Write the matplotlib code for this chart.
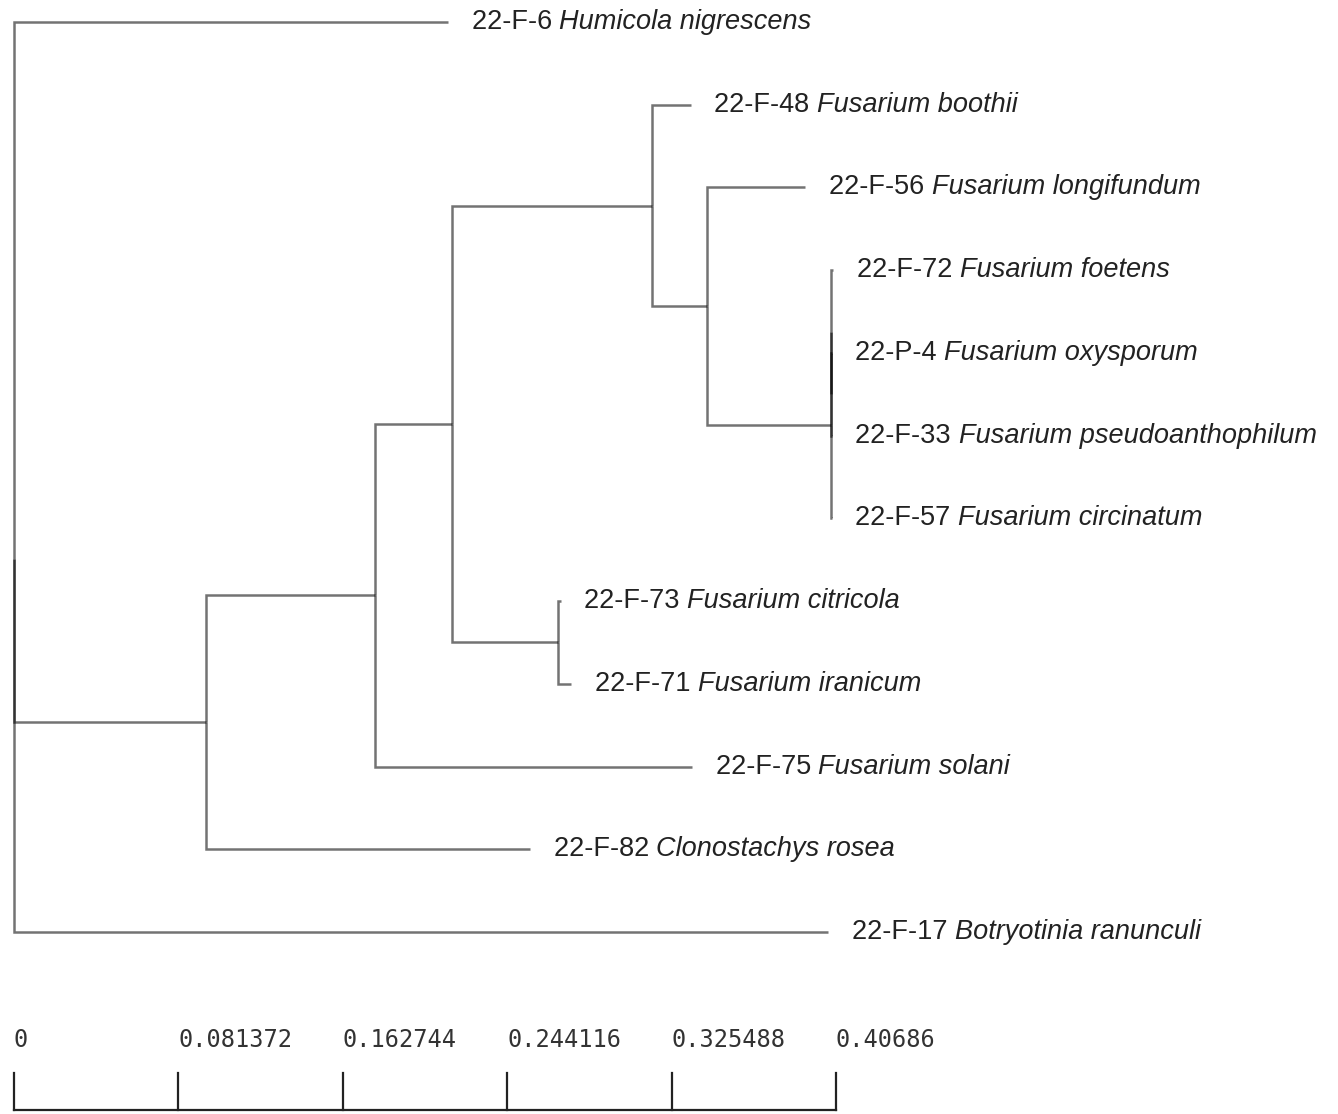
import matplotlib.pyplot as plt

# leaves, top to bottom
strain_ids = ["22-F-6", "22-F-48", "22-F-56", "22-F-72", "22-P-4", "22-F-33",
              "22-F-57", "22-F-73", "22-F-71", "22-F-75", "22-F-82", "22-F-17"]
species = ["Humicola nigrescens", "Fusarium boothii", "Fusarium longifundum",
           "Fusarium foetens", "Fusarium oxysporum", "Fusarium pseudoanthophilum",
           "Fusarium circinatum", "Fusarium citricola", "Fusarium iranicum",
           "Fusarium solani", "Clonostachys rosea", "Botryotinia ranunculi"]
leaf_parent = ["root", "D", "F", "N", "M", "M", "G", "E", "E", "B", "A", "root"]
leaf_length = [0.2148, 0.0190, 0.0487, 0.0012, 0.0004, 0.0004,
               0.0004, 0.0012, 0.0066, 0.1569, 0.1604, 0.4029]

# internal nodes (parents listed before children)
node_names = ["root", "A", "B", "C", "D", "E", "F", "G", "N", "M"]
node_parent = [None, "root", "A", "B", "C", "C", "D", "F", "G", "N"]
node_length = [0.0, 0.0950, 0.0837, 0.0381, 0.0992, 0.0525, 0.0269, 0.0615, 0.0, 0.0]

scale_ticks = [0, 0.081372, 0.162744, 0.244116, 0.325488, 0.40686]

# x position of every node
x_pos = {}
for name, parent, length in zip(node_names, node_parent, node_length):
    x_pos[name] = 0.0 if parent is None else x_pos[parent] + length

children = {name: [] for name in node_names}
for name, parent in zip(node_names, node_parent):
    if parent is not None:
        children[parent].append(name)

leaf_x = []
leaf_y = list(range(len(strain_ids)))
for i, (parent, length) in enumerate(zip(leaf_parent, leaf_length)):
    children[parent].append(("leaf", i))
    leaf_x.append(x_pos[parent] + length)

y_pos = {}


def node_y(item):
    if isinstance(item, tuple):
        return leaf_y[item[1]]
    if item not in y_pos:
        ys = [node_y(c) for c in children[item]]
        y_pos[item] = sum(ys) / len(ys)
    return y_pos[item]


def node_x(item):
    if isinstance(item, tuple):
        return leaf_x[item[1]]
    return x_pos[item]


fig = plt.figure(figsize=(13.38, 11.14), dpi=100)
ax = fig.add_axes([0, 0, 1, 1])

px_per_unit = (836 - 14) / 0.40686
ax.set_xlim(-14 / px_per_unit, (1338 - 14) / px_per_unit)
row_px = (932 - 22) / 11
ax.set_ylim((1114 - 22) / row_px, -22 / row_px)
ax.axis("off")

line_kw = dict(color="black", alpha=0.55, lw=1.8, solid_capstyle="butt",
               solid_joinstyle="miter")
for name in node_names:
    ny = node_y(name)
    nx = x_pos[name]
    for child in children[name]:
        cy = node_y(child)
        ax.plot([nx, nx, node_x(child)], [ny, cy, cy], **line_kw)

label_size = 19.5
for i in range(len(strain_ids)):
    t = ax.annotate(strain_ids[i] + " ", (leaf_x[i], leaf_y[i]), xytext=(17, 0),
                    textcoords="offset points", va="center", ha="left",
                    fontsize=label_size, family="Liberation Sans", color="#222222")
    # species name in italics right after the strain id
    ax.annotate(species[i], xy=(1, 0.5), xycoords=t, va="center", ha="left",
                fontsize=label_size, family="Liberation Sans", style="italic",
                color="#222222")

# scale bar
bar_label_y = (1040 - 22) / row_px
tick_top = (1073 - 22) / row_px
tick_bottom = (1110 - 22) / row_px
ax.plot([scale_ticks[0], scale_ticks[-1]], [tick_bottom, tick_bottom], color="#222222", lw=1.6)
for v in scale_ticks:
    ax.plot([v, v], [tick_top, tick_bottom], color="#222222", lw=1.6)
    ax.text(v, bar_label_y, "0" if v == 0 else str(v), ha="left", va="center",
            fontsize=17, family="DejaVu Sans Mono", color="#333333")

fig.savefig("out.png", dpi=100)
